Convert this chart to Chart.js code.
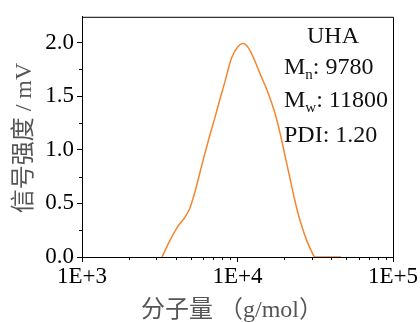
<!DOCTYPE html>
<html>
<head>
<meta charset="utf-8">
<script src="https://cdn.jsdelivr.net/npm/chart.js@4"></script>
<style>
  html, body { margin: 0; padding: 0; background: #fff; }
  #wrap { width: 420px; height: 322px; }
</style>
</head>
<body>
<div id="wrap"><canvas id="gpcChart" width="420" height="322"></canvas></div>
<script>
// GPC trace
const molWeight = [3270, 3680, 4160, 4590, 4950, 5330, 5740, 6180, 6650, 7160, 7670, 8320, 9180, 10120, 10890, 11750, 12650, 13960, 15780, 17420, 18750, 20180, 21780, 23440, 25240, 27860, 29990, 31480, 46350];
const signal    = [0.00, 0.155, 0.29, 0.37, 0.46, 0.61, 0.79, 0.97, 1.14, 1.30, 1.46, 1.64, 1.86, 1.966, 1.99, 1.95, 1.86, 1.71, 1.525, 1.34, 1.16, 0.95, 0.73, 0.52, 0.34, 0.155, 0.05, 0.00, 0.00];
const xMajorTicks = [1000, 10000, 100000];
const yMajorTicks = [0, 0.5, 1.0, 1.5, 2.0];
const yMinorTicks = [0.25, 0.75, 1.25, 1.75];
const sampleName = 'UHA';
const mnValue = '9780';
const mwValue = '11800';
const pdiValue = '1.20';

const SERIF = '"Liberation Serif", "Times New Roman", serif';
const MIXED = '"Liberation Serif", "Noto Sans CJK SC", serif';

const gpcPlugin = {
  id: 'gpcDecor',
  afterDraw(chart) {
    const { ctx, chartArea: a, scales: { x, y } } = chart;
    ctx.save();
    ctx.strokeStyle = '#000';
    ctx.lineWidth = 1;
    // top and right frame
    ctx.beginPath();
    ctx.moveTo(a.left, a.top + 0.5); ctx.lineTo(a.right + 0.5, a.top + 0.5);
    ctx.lineTo(a.right + 0.5, a.bottom);
    ctx.stroke();
    // minor ticks
    ctx.beginPath();
    [1000, 10000].forEach(dec => {
      for (let k = 2; k <= 9; k++) {
        const px = Math.round(x.getPixelForValue(dec * k)) + 0.5;
        ctx.moveTo(px, a.bottom); ctx.lineTo(px, a.bottom + 3);
      }
    });
    yMinorTicks.forEach(v => {
      const py = Math.round(y.getPixelForValue(v)) + 0.5;
      ctx.moveTo(a.left, py); ctx.lineTo(a.left - 3, py);
    });
    ctx.stroke();

    // annotation
    ctx.fillStyle = '#111';
    ctx.textBaseline = 'alphabetic';
    ctx.font = '24px ' + SERIF;
    ctx.textAlign = 'center';
    ctx.fillText(sampleName, 333, 43);
    ctx.textAlign = 'left';
    const subLine = (sub, val, base) => {
      let cx = 284;
      ctx.font = '24px ' + SERIF;
      ctx.fillText('M', cx, base);
      cx += ctx.measureText('M').width;
      ctx.font = '15px ' + SERIF;
      ctx.fillText(sub, cx, base + 5);
      cx += ctx.measureText(sub).width;
      ctx.font = '24px ' + SERIF;
      ctx.fillText(': ' + val, cx, base);
    };
    subLine('n', mnValue, 74);
    subLine('w', mwValue, 107);
    ctx.fillText('PDI: ' + pdiValue, 284, 142);

    // axis titles
    ctx.fillStyle = '#555';
    ctx.font = '24px ' + MIXED;
    ctx.textAlign = 'center';
    ctx.textBaseline = 'middle';
    ctx.fillText('分子量 （g/mol）', 232, 311);
    ctx.translate(25, 138);
    ctx.rotate(-Math.PI / 2);
    ctx.fillText('信号强度 / mV', 0, 0);
    ctx.restore();
  }
};

const ctx = document.getElementById('gpcChart').getContext('2d');
new Chart(ctx, {
  type: 'line',
  data: {
    datasets: [{
      data: molWeight.map((m, i) => ({ x: m, y: signal[i] })),
      borderColor: '#f5852f',
      borderWidth: 1.5,
      pointRadius: 0,
      fill: false,
      tension: 0.4,
      cubicInterpolationMode: 'monotone'
    }]
  },
  options: {
    responsive: false,
    animation: false,
    devicePixelRatio: 1,
    layout: { padding: { top: 12, right: 27, left: 0, bottom: 0 } },
    plugins: { legend: { display: false }, tooltip: { enabled: false } },
    scales: {
      x: {
        type: 'logarithmic',
        min: 1000,
        max: 100000,
        afterBuildTicks: s => { s.ticks = xMajorTicks.map(v => ({ value: v })); },
        afterFit: s => { s.height = 65; },
        ticks: {
          color: '#000',
          font: { family: SERIF, size: 23 },
          maxRotation: 0,
          padding: 1,
          callback: v => '1E+' + Math.round(Math.log10(v))
        },
        grid: { drawOnChartArea: false, tickLength: 5, color: '#000' },
        border: { color: '#000', width: 1 }
      },
      y: {
        min: 0,
        max: 2.24,
        afterBuildTicks: s => { s.ticks = yMajorTicks.map(v => ({ value: v })); },
        afterFit: s => { s.width = 82; },
        ticks: {
          color: '#000',
          font: { family: SERIF, size: 23 },
          padding: 3,
          callback: v => v.toFixed(1)
        },
        grid: { drawOnChartArea: false, tickLength: 5, color: '#000' },
        border: { color: '#000', width: 1 }
      }
    }
  },
  plugins: [gpcPlugin]
});
</script>
</body>
</html>
